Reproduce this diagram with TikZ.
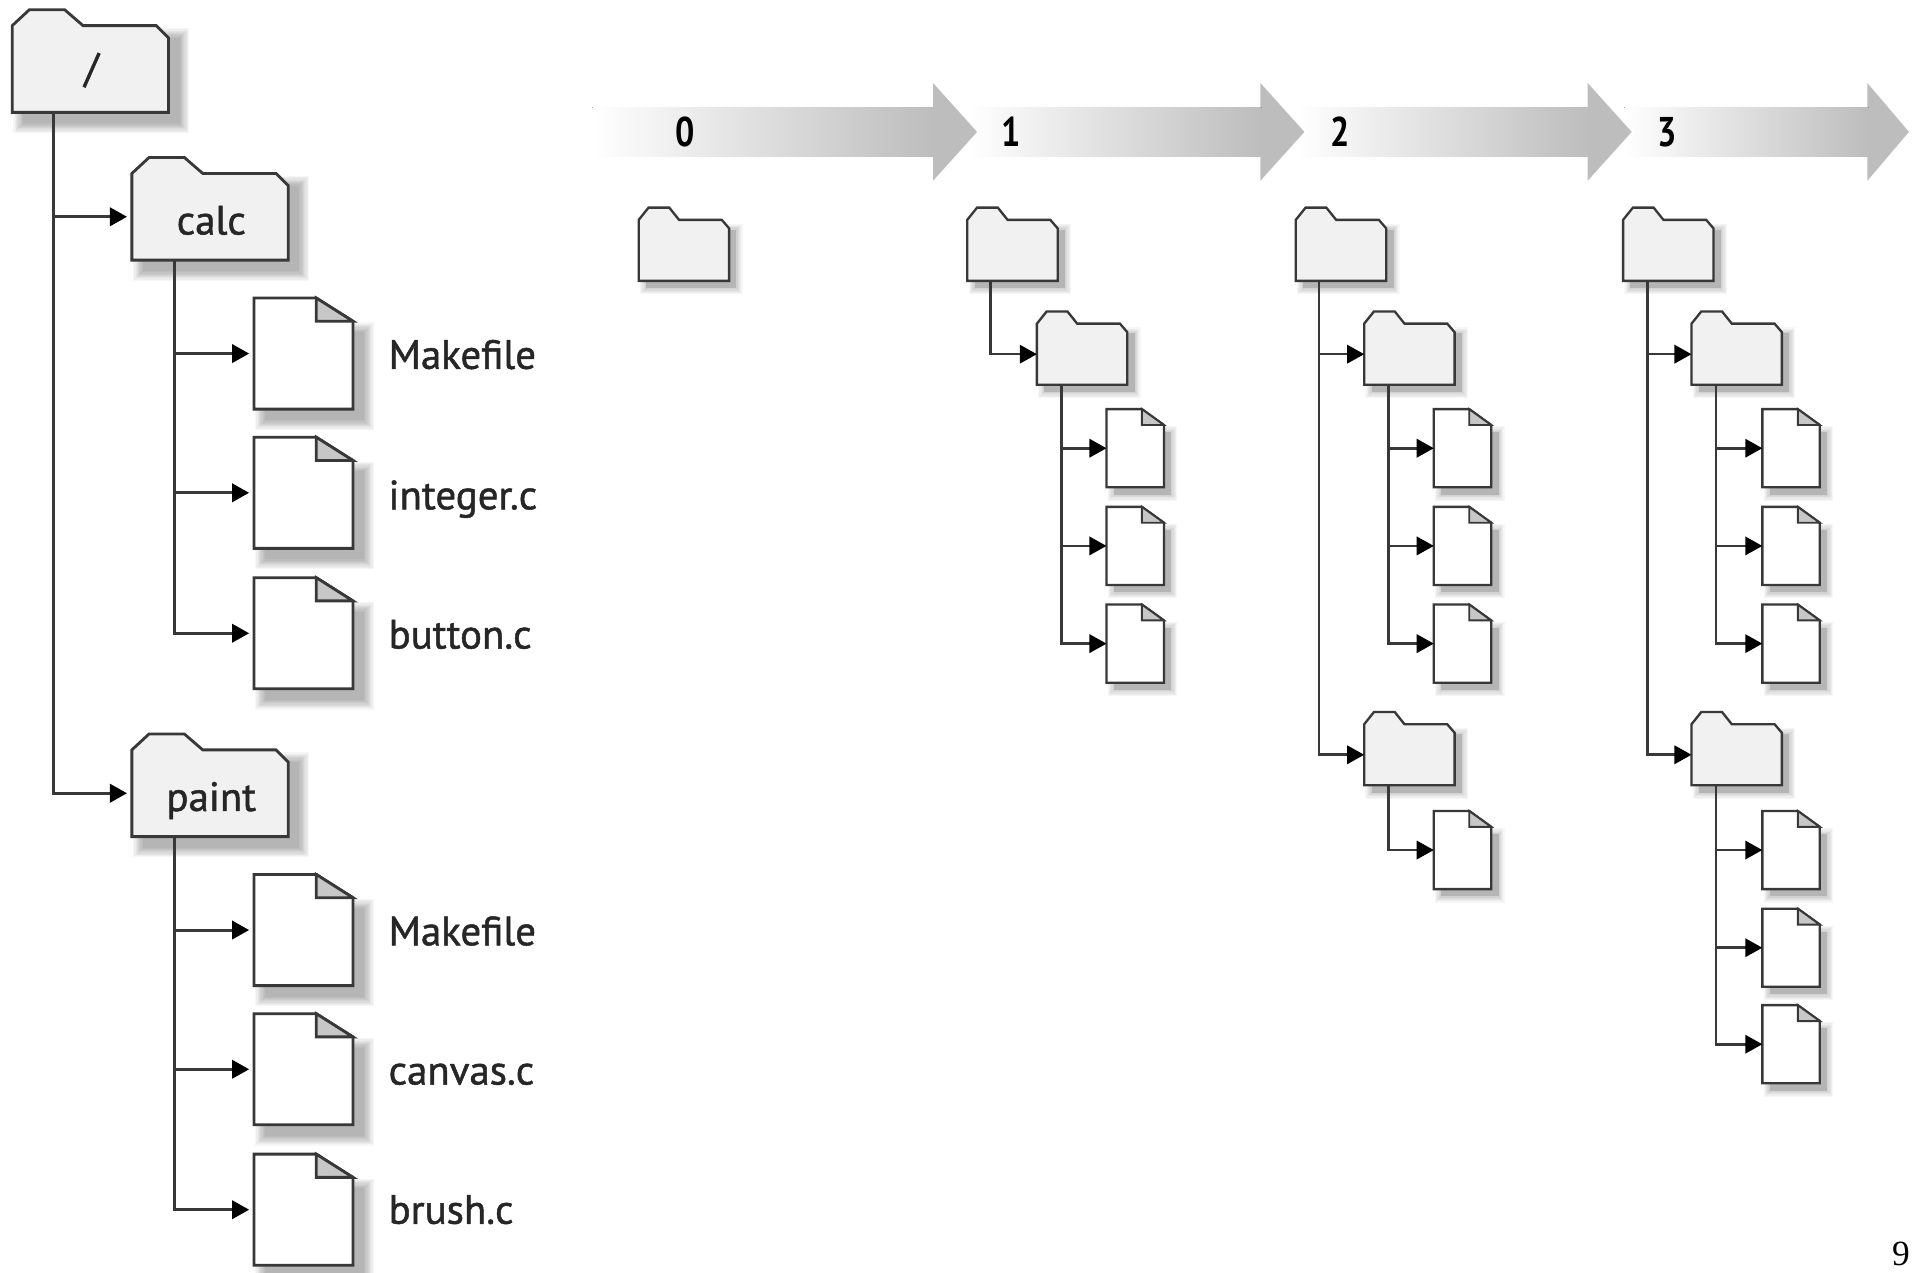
\documentclass[tikz,border=0pt]{standalone}
\usepackage{fontspec}
\setmainfont{PT Sans}
\newfontfamily\labfont[FakeBold=1.2]{PT Sans}
\newfontfamily\pagefont{Liberation Serif}
\usetikzlibrary{arrows.meta}
\definecolor{ink}{gray}{0.22}
\definecolor{folderfill}{gray}{0.945}
\definecolor{foldfill}{gray}{0.78}
\definecolor{barend}{gray}{0.74}
\tikzset{
  x=1pt,y=-1pt,
  outline/.style={draw=ink,line width=#1,line join=miter},
  conn/.style={draw=ink,line width=2.1pt,-{Triangle[length=14pt,width=15pt,color=black]}},
  bigconn/.style={conn,line width=2.4pt,shorten >=4pt},
  anchorbox/.style={draw=none,inner sep=0pt,outer sep=0pt,anchor=north west},
  lab/.style={font=\labfont\fontsize{33.5}{33.5}\selectfont,text=black!85,inner sep=0pt,anchor=base west},
  step num/.style={font=\fontsize{34}{34}\selectfont\bfseries,text=black,inner sep=0pt},
}
% soft shadow: x1 y1 x2 y2 offset, list of spreads
\newcommand{\softshadow}[6]{%
  \foreach \d in {#6}{%
    \fill[black,opacity=.035] (#1+#5-\d,#2+#5-\d) rectangle (#3+#5+\d,#4+#5+\d);
  }}
\newcommand{\bigfolder}[4]{% name x top label
  \softshadow{#2}{#3+14}{#2+128}{#3+84}{9}{8,7,6,5,4,3,2,1,0}
  \filldraw[outline=2.3pt,fill=folderfill] (#2,#3+13) -- (#2+14,#3) -- (#2+43,#3) -- (#2+58,#3+13)
    -- (#2+118,#3+13) -- (#2+128,#3+23) -- (#2+128,#3+84) -- (#2,#3+84) -- cycle;
  \node[anchorbox,minimum width=128pt,minimum height=71pt] (#1) at (#2,#3+13) {};
  \node[lab,anchor=base] (#1-text) at (#2+65,#3+63) {#4};
}
\newcommand{\smallfolder}[3]{% name x top
  \softshadow{#2}{#3+12}{#2+74}{#3+60}{6}{5,4,3,2,1,0,0,0,0}
  \filldraw[outline=1.9pt,fill=folderfill] (#2,#3+10) -- (#2+8,#3) -- (#2+25,#3) -- (#2+33,#3+10)
    -- (#2+68,#3+10) -- (#2+74,#3+17) -- (#2+74,#3+60) -- (#2,#3+60) -- cycle;
  \node[anchorbox,minimum width=74pt,minimum height=50pt] (#1) at (#2,#3+10) {};
}
\newcommand{\bigfile}[3]{% name x top
  \softshadow{#2}{#3+19}{#2+81}{#3+91}{9}{8,7,6,5,4,3,2,1,0}
  \filldraw[outline=2.3pt,fill=white] (#2,#3) -- (#2+51,#3) -- (#2+81,#3+19) -- (#2+81,#3+91) -- (#2,#3+91) -- cycle;
  \filldraw[outline=2.3pt,fill=foldfill] (#2+51,#3) -- (#2+51,#3+19) -- (#2+81,#3+19) -- cycle;
  \node[anchorbox,minimum width=81pt,minimum height=91pt] (#1) at (#2,#3) {};
}
\newcommand{\smallfile}[3]{% name x top
  \softshadow{#2}{#3+13}{#2+47}{#3+64}{6}{5,4,3,2,1,0,0,0,0}
  \filldraw[outline=1.9pt,fill=white] (#2,#3) -- (#2+29,#3) -- (#2+47,#3+13) -- (#2+47,#3+64) -- (#2,#3+64) -- cycle;
  \filldraw[outline=1.6pt,fill=foldfill] (#2+29,#3) -- (#2+29,#3+13) -- (#2+47,#3+13) -- cycle;
  \node[anchorbox,minimum width=47pt,minimum height=64pt] (#1) at (#2,#3) {};
}
\newcommand{\steparrow}[5]{% name x-start x-headbase x-tip label-x
  \draw[white,line width=5pt,line join=miter] (#3,68) -- (#4,108) -- (#3,148);
  \fill[barend] (#3-1,68) -- (#4,108) -- (#3-1,148) -- cycle;
  \fill[left color=white,right color=barend] (#2,88) rectangle (#3,128);
  \node[step num] (#1) at (#5,108) {\scalebox{.82}[1]{#1}};
}
\begin{document}
\begin{tikzpicture}
\useasboundingbox (0,0) rectangle (1568,1042);
\fill[white] (0,0) rectangle (1568,1042);

% step arrows
\steparrow{3}{1330}{1530}{1563}{1365}
\steparrow{2}{1062}{1301}{1336}{1097}
\steparrow{1}{793}{1033}{1068}{828}
\steparrow{0}{485}{765}{800}{561}

% left tree
\bigfolder{root}{10}{8}{\raisebox{4pt}{/}}
\bigfolder{calc}{108}{129}{calc}
\bigfolder{paint}{108}{601}{paint}
\bigfile{fa}{208}{244}
\bigfile{fb}{208}{358}
\bigfile{fc}{208}{473}
\bigfile{fd}{208}{716}
\bigfile{fe}{208}{830}
\bigfile{ff}{208}{945}
\node[lab] (la) at (318,302) {Makefile};
\node[lab] (lb) at (318,417) {integer.c};
\node[lab] (lc) at (318,531) {button.c};
\node[lab] (ld) at (318,774) {Makefile};
\node[lab] (le) at (318,888) {canvas.c};
\node[lab] (lf) at (318,1002) {brush.c};
\draw[bigconn] ([xshift=34pt]root.south west) |- (calc.west);
\draw[bigconn] ([xshift=34pt]root.south west) |- (paint.west);
\foreach \t in {fa,fb,fc}{\draw[bigconn] ([xshift=35pt]calc.south west) |- (\t.west);}
\foreach \t in {fd,fe,ff}{\draw[bigconn] ([xshift=35pt]paint.south west) |- (\t.west);}

% stage 0
\smallfolder{s0}{523}{170}

% stage 1
\smallfolder{a}{792}{170}
\smallfolder{ac}{849}{255}
\smallfile{a1}{906}{335}
\smallfile{a2}{906}{415}
\smallfile{a3}{906}{495}
\draw[conn] ([xshift=19pt]a.south west) |- (ac.west);
\foreach \t in {a1,a2,a3}{\draw[conn] ([xshift=20pt]ac.south west) |- (\t.west);}

% stage 2
\smallfolder{b}{1061}{170}
\smallfolder{bc}{1117}{255}
\smallfolder{bp}{1117}{583}
\smallfile{b1}{1174}{335}
\smallfile{b2}{1174}{415}
\smallfile{b3}{1174}{495}
\smallfile{b4}{1174}{664}
\draw[conn] ([xshift=19pt]b.south west) |- (bc.west);
\draw[conn] ([xshift=19pt]b.south west) |- (bp.west);
\foreach \t in {b1,b2,b3}{\draw[conn] ([xshift=20pt]bc.south west) |- (\t.west);}
\draw[conn] ([xshift=20pt]bp.south west) |- (b4.west);

% stage 3
\smallfolder{c}{1329}{170}
\smallfolder{cc}{1385}{255}
\smallfolder{cp}{1385}{583}
\smallfile{c1}{1443}{335}
\smallfile{c2}{1443}{415}
\smallfile{c3}{1443}{495}
\smallfile{c4}{1443}{664}
\smallfile{c5}{1443}{744}
\smallfile{c6}{1443}{823}
\draw[conn] ([xshift=20pt]c.south west) |- (cc.west);
\draw[conn] ([xshift=20pt]c.south west) |- (cp.west);
\foreach \t in {c1,c2,c3}{\draw[conn] ([xshift=20pt]cc.south west) |- (\t.west);}
\foreach \t in {c4,c5,c6}{\draw[conn] ([xshift=20pt]cp.south west) |- (\t.west);}

% page number
\node[inner sep=0pt,anchor=base east,font=\pagefont\fontsize{29}{29}\selectfont] (pg) at (1564,1036) {9};
\end{tikzpicture}
\end{document}
